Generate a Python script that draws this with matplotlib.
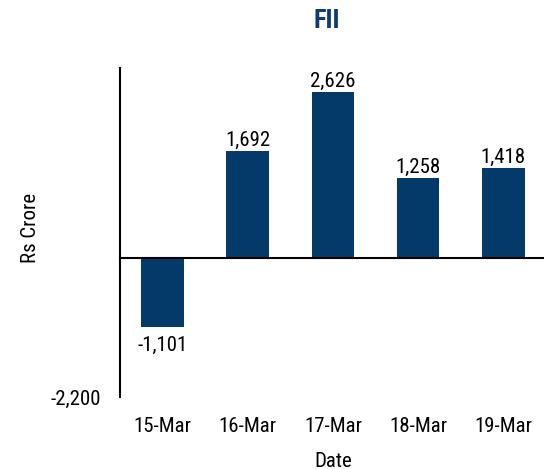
import matplotlib
matplotlib.use("Agg")
import matplotlib.pyplot as plt
from matplotlib.ticker import FuncFormatter

dates = ["15-Mar", "16-Mar", "17-Mar", "18-Mar", "19-Mar"]
fii_values = [-1101, 1692, 2626, 1258, 1418]
y_ticks = [-2200]

plt.rcParams['font.family'] = ['Roboto Condensed', 'DejaVu Sans']

bar_color = "#043a6a"
fs = 15
fig = plt.figure(figsize=(5.44, 4.69), dpi=100)
ax = fig.add_axes([0.2206, 0.1535, 0.783, 0.7015])

x = list(range(len(dates)))
ax.bar(x, fii_values, width=0.5, color=bar_color, zorder=2)

for xi, v in zip(x, fii_values):
    label = f"{v:,}"
    dy = 3.6 if v >= 0 else -16.6
    ax.annotate(label, (xi, v), xytext=(0, dy), textcoords="offset points",
                ha="center", va="baseline", fontsize=fs)

ax.set_xlim(-0.5, 4.5)
ax.set_ylim(-2200, 3000)
ax.set_yticks(y_ticks)
ax.yaxis.set_major_formatter(FuncFormatter(lambda v, p: f"{int(v):,}"))
ax.set_xticks(x)

for s in ["top", "right"]:
    ax.spines[s].set_visible(False)
ax.spines["bottom"].set_position(("data", 0))
ax.spines["bottom"].set_linewidth(1.5)
ax.spines["left"].set_linewidth(1.5)

ax.tick_params(axis="both", length=0, labelsize=fs)
ax.tick_params(axis="y", pad=14)
ax.xaxis.set_tick_params(labelbottom=False)

# date labels sit below the plot area, not on the zero line
for xi, d in zip(x, dates):
    ax.annotate(d, (xi, 0), xycoords=("data", "figure fraction"),
                xytext=(xi, 1 - 432 / 469), textcoords=("data", "figure fraction"),
                ha="center", va="baseline", fontsize=fs)

fig.text(0.612, 1 - 466.5 / 469, "Date", ha="center", va="baseline", fontsize=fs)
fig.text(0.0555, 1 - 228 / 469, "Rs Crore", rotation=90, ha="center", va="center",
         fontsize=fs)
fig.text(0.601, 1 - 28 / 469, "FII", ha="center", va="baseline", fontsize=19,
         fontweight="bold", color="#0b3d6e")

fig.savefig("out.png", dpi=100)
